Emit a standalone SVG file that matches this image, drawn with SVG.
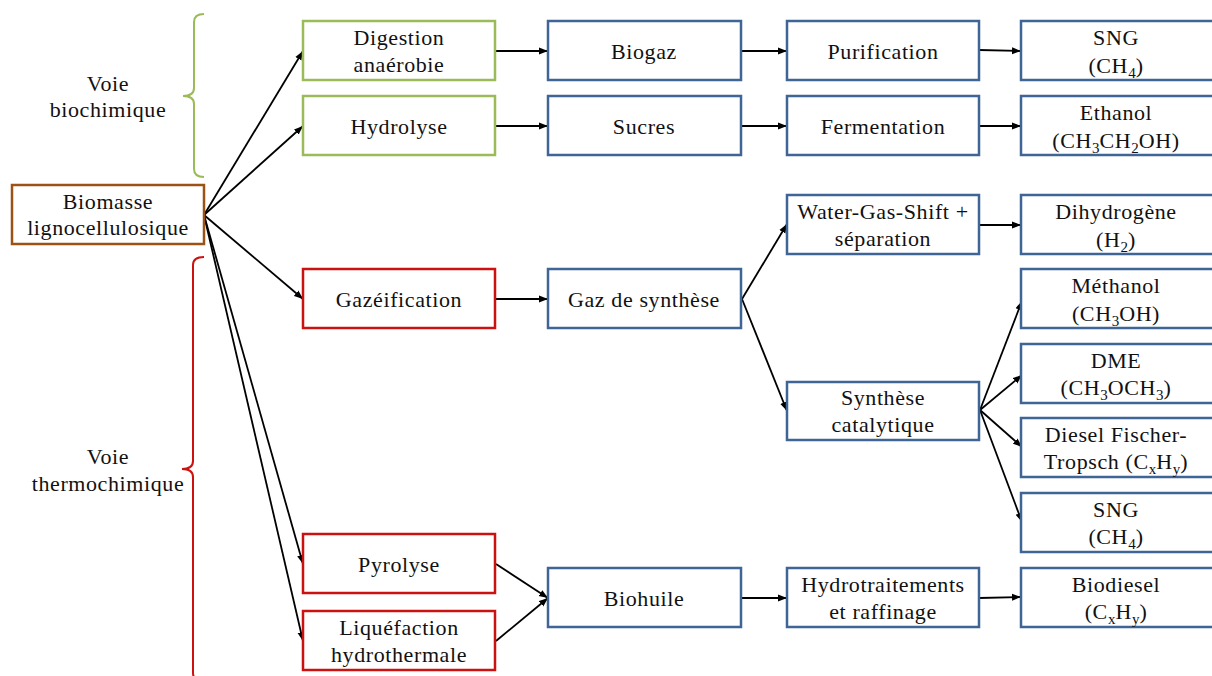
<svg xmlns="http://www.w3.org/2000/svg" width="1212" height="676" viewBox="0 0 1212 676">
<defs>
<marker id="ah" markerUnits="userSpaceOnUse" markerWidth="10" markerHeight="8" refX="9" refY="4" orient="auto">
<path d="M0,0.5 L9,4 L0,7.5 z" fill="#000"/>
</marker>
<style>
text{font-family:"Liberation Serif","DejaVu Serif",serif;font-size:22px;fill:#111;text-anchor:middle;letter-spacing:0.6px}
.s{font-size:15px;baseline-shift:-5px;letter-spacing:0}
rect{fill:#fff;stroke-width:2.5}
.g{stroke:#9bbb59}
.b{stroke:#3f6596}
.r{stroke:#cc1111}
.br{stroke:#9c5214}
#connectors line{stroke:#000;stroke-width:1.8;marker-end:url(#ah)}
.brace{fill:none;stroke-width:2}
</style>
</defs>
<rect width="1212" height="676" fill="#fff" style="stroke:none"/>

<g id="brace-bio">
<path class="brace" stroke="#9bbb59" d="M204,14 Q194,14 194,22 L194,88 Q194,96 183,96 Q194,96 194,104 L194,169 Q194,177 204,177"/>
<text x="108" y="91">Voie</text>
<text x="108" y="117">biochimique</text>
</g>
<g id="brace-thermo">
<path class="brace" stroke="#cc1111" d="M204,257 Q193,257 193,265 L193,461 Q193,469 182,469 Q193,469 193,477 L193,673 Q193,681 204,681"/>
<text x="108" y="464">Voie</text>
<text x="108" y="491">thermochimique</text>
</g>

<g id="connectors">
<line x1="204" y1="215" x2="303" y2="51"/>
<line x1="204" y1="215" x2="303" y2="126"/>
<line x1="204" y1="215" x2="303" y2="299"/>
<line x1="204" y1="215" x2="303" y2="564"/>
<line x1="204" y1="215" x2="303" y2="641"/>
<line x1="496" y1="51" x2="548" y2="51"/>
<line x1="741" y1="51" x2="787" y2="51"/>
<line x1="979" y1="50" x2="1021" y2="51"/>
<line x1="496" y1="126" x2="548" y2="126"/>
<line x1="741" y1="126" x2="787" y2="126"/>
<line x1="979" y1="126" x2="1021" y2="126"/>
<line x1="496" y1="299" x2="548" y2="299"/>
<line x1="742" y1="299" x2="787" y2="224"/>
<line x1="742" y1="299" x2="787" y2="411"/>
<line x1="979" y1="225" x2="1021" y2="225"/>
<line x1="980" y1="410" x2="1022" y2="301"/>
<line x1="980" y1="410" x2="1022" y2="375"/>
<line x1="980" y1="410" x2="1022" y2="447"/>
<line x1="980" y1="410" x2="1022" y2="522"/>
<line x1="496" y1="564" x2="548" y2="598"/>
<line x1="496" y1="641" x2="548" y2="598"/>
<line x1="741" y1="598" x2="787" y2="598"/>
<line x1="979" y1="598" x2="1021" y2="597"/>
</g>

<g id="biomasse"><rect class="br" x="12" y="185" width="192" height="59"/><text x="108" y="209">Biomasse</text><text x="108" y="235">lignocellulosique</text></g>

<g id="digestion"><rect class="g" x="303" y="21" width="192" height="59"/><text x="399" y="45">Digestion</text><text x="399" y="72">anaérobie</text></g>
<g id="hydrolyse"><rect class="g" x="303" y="96" width="192" height="59"/><text x="399" y="134">Hydrolyse</text></g>
<g id="gazeification"><rect class="r" x="303" y="269" width="192" height="59"/><text x="399" y="307">Gazéification</text></g>
<g id="pyrolyse"><rect class="r" x="303" y="534" width="192" height="59"/><text x="399" y="572">Pyrolyse</text></g>
<g id="liquefaction"><rect class="r" x="303" y="611" width="192" height="59"/><text x="399" y="635">Liquéfaction</text><text x="399" y="662">hydrothermale</text></g>

<g id="biogaz"><rect class="b" x="548" y="21" width="193" height="59"/><text x="644" y="59">Biogaz</text></g>
<g id="sucres"><rect class="b" x="548" y="96" width="193" height="59"/><text x="644" y="134">Sucres</text></g>
<g id="gaz-synthese"><rect class="b" x="548" y="269" width="193" height="59"/><text x="644" y="307">Gaz de synthèse</text></g>
<g id="biohuile"><rect class="b" x="548" y="568" width="193" height="59"/><text x="644" y="606">Biohuile</text></g>

<g id="purification"><rect class="b" x="787" y="21" width="192" height="59"/><text x="883" y="59">Purification</text></g>
<g id="fermentation"><rect class="b" x="787" y="96" width="192" height="59"/><text x="883" y="134">Fermentation</text></g>
<g id="wgs"><rect class="b" x="787" y="195" width="192" height="59"/><text x="883" y="219">Water-Gas-Shift +</text><text x="883" y="246">séparation</text></g>
<g id="synthese-cat"><rect class="b" x="787" y="382" width="192" height="58"/><text x="883" y="405">Synthèse</text><text x="883" y="432">catalytique</text></g>
<g id="hydrotraitements"><rect class="b" x="787" y="568" width="192" height="59"/><text x="883" y="592">Hydrotraitements</text><text x="883" y="619">et raffinage</text></g>

<g id="sng1"><rect class="b" x="1021" y="21" width="200" height="59"/><text x="1116" y="45">SNG</text><text x="1116" y="73">(CH<tspan class="s">4</tspan>)</text></g>
<g id="ethanol"><rect class="b" x="1021" y="96" width="200" height="59"/><text x="1116" y="120">Ethanol</text><text x="1116" y="148">(CH<tspan class="s">3</tspan>CH<tspan class="s">2</tspan>OH)</text></g>
<g id="dihydrogene"><rect class="b" x="1021" y="195" width="200" height="59"/><text x="1116" y="219">Dihydrogène</text><text x="1116" y="247">(H<tspan class="s">2</tspan>)</text></g>
<g id="methanol"><rect class="b" x="1021" y="269" width="200" height="59"/><text x="1116" y="293">Méthanol</text><text x="1116" y="321">(CH<tspan class="s">3</tspan>OH)</text></g>
<g id="dme"><rect class="b" x="1021" y="344" width="200" height="59"/><text x="1116" y="368">DME</text><text x="1116" y="395">(CH<tspan class="s">3</tspan>OCH<tspan class="s">3</tspan>)</text></g>
<g id="diesel-ft"><rect class="b" x="1021" y="418" width="200" height="59"/><text x="1116" y="442">Diesel Fischer-</text><text x="1116" y="469">Tropsch (C<tspan class="s">x</tspan>H<tspan class="s">y</tspan>)</text></g>
<g id="sng2"><rect class="b" x="1021" y="493" width="200" height="59"/><text x="1116" y="517">SNG</text><text x="1116" y="544">(CH<tspan class="s">4</tspan>)</text></g>
<g id="biodiesel"><rect class="b" x="1021" y="568" width="200" height="59"/><text x="1116" y="592">Biodiesel</text><text x="1116" y="619">(C<tspan class="s">x</tspan>H<tspan class="s">y</tspan>)</text></g>
</svg>
